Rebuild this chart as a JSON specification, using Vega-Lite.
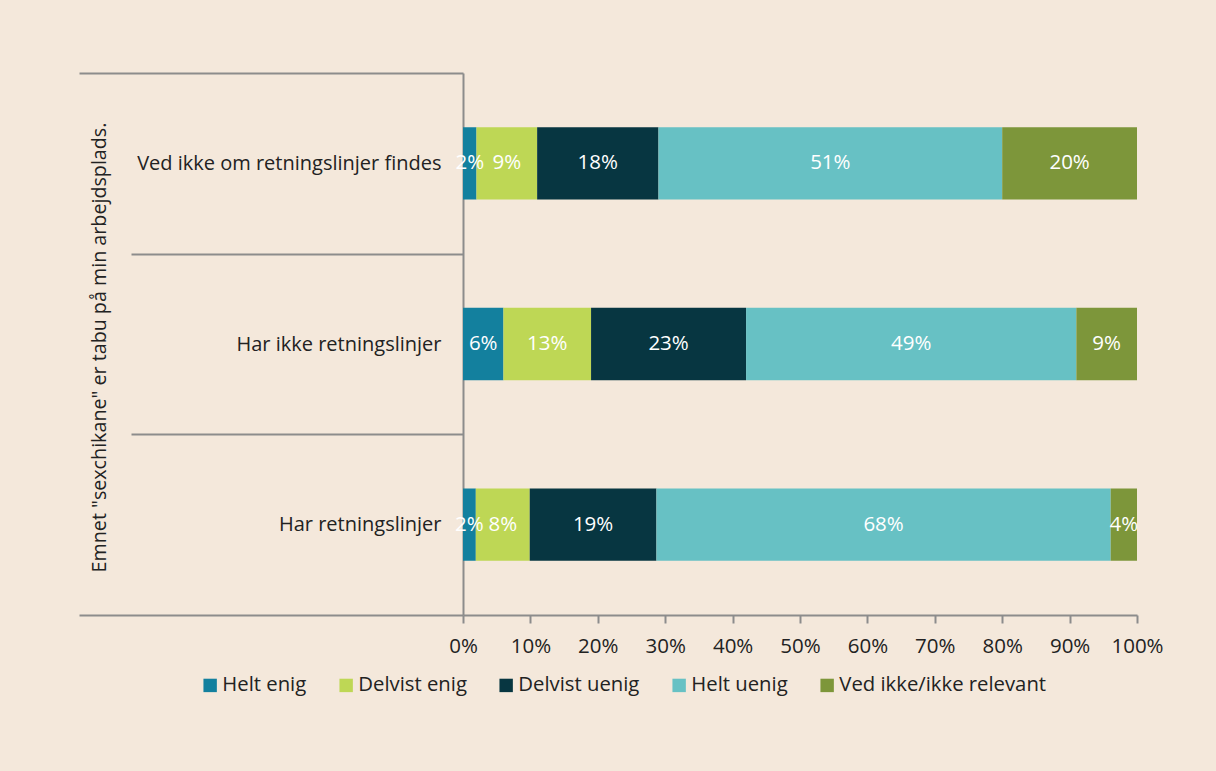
{
  "$schema": "https://vega.github.io/schema/vega-lite/v6.json",
  "width": 674,
  "height": 542,
  "padding": {"left": 78, "top": 63, "right": 60, "bottom": 90},
  "background": "#F4E8DB",
  "config": {"view": {"stroke": null}, "font": "Open Sans"},
  "data": {
    "values": [
      {"group": "Ved ikke om retningslinjer findes", "answer": "Helt enig", "order": 1, "value": 2, "label": "2%"},
      {"group": "Ved ikke om retningslinjer findes", "answer": "Delvist enig", "order": 2, "value": 9, "label": "9%"},
      {"group": "Ved ikke om retningslinjer findes", "answer": "Delvist uenig", "order": 3, "value": 18, "label": "18%"},
      {"group": "Ved ikke om retningslinjer findes", "answer": "Helt uenig", "order": 4, "value": 51, "label": "51%"},
      {"group": "Ved ikke om retningslinjer findes", "answer": "Ved ikke/ikke relevant", "order": 5, "value": 20, "label": "20%"},
      {"group": "Har ikke retningslinjer", "answer": "Helt enig", "order": 1, "value": 6, "label": "6%"},
      {"group": "Har ikke retningslinjer", "answer": "Delvist enig", "order": 2, "value": 13, "label": "13%"},
      {"group": "Har ikke retningslinjer", "answer": "Delvist uenig", "order": 3, "value": 23, "label": "23%"},
      {"group": "Har ikke retningslinjer", "answer": "Helt uenig", "order": 4, "value": 49, "label": "49%"},
      {"group": "Har ikke retningslinjer", "answer": "Ved ikke/ikke relevant", "order": 5, "value": 9, "label": "9%"},
      {"group": "Har retningslinjer", "answer": "Helt enig", "order": 1, "value": 1.9, "label": "2%"},
      {"group": "Har retningslinjer", "answer": "Delvist enig", "order": 2, "value": 8.0, "label": "8%"},
      {"group": "Har retningslinjer", "answer": "Delvist uenig", "order": 3, "value": 18.8, "label": "19%"},
      {"group": "Har retningslinjer", "answer": "Helt uenig", "order": 4, "value": 67.4, "label": "68%"},
      {"group": "Har retningslinjer", "answer": "Ved ikke/ikke relevant", "order": 5, "value": 3.9, "label": "4%"}
    ]
  },
  "transform": [
    {"stack": "value", "groupby": ["group"], "sort": [{"field": "order"}], "as": ["v0", "v1"]},
    {"calculate": "(datum.v0 + datum.v1) / 2", "as": "mid"}
  ],
  "encoding": {
    "y": {
      "field": "group",
      "type": "nominal",
      "sort": ["Ved ikke om retningslinjer findes", "Har ikke retningslinjer", "Har retningslinjer"],
      "scale": {"paddingInner": 0, "paddingOuter": 0},
      "axis": {
        "title": "Emnet \"sexchikane\" er tabu på min arbejdsplads.",
        "titleX": -364,
        "titleY": 274,
        "titleAngle": -90,
        "titleAlign": "center",
        "titleBaseline": "middle",
        "titleFontSize": 19.7,
        "titleFontWeight": "normal",
        "titleColor": "#222222",
        "tickBand": "extent",
        "tickSize": {"condition": {"test": "datum.extra || datum.value == 'Har retningslinjer'", "value": 384}, "value": 332},
        "tickColor": "#8C8C8C",
        "tickWidth": 2,
        "domainColor": "#8C8C8C",
        "domainWidth": 2,
        "labelPadding": {"condition": {"test": "datum.value == 'Har retningslinjer'", "value": -362}, "value": -310},
        "labelFontSize": 20,
        "labelColor": "#222222",
        "labelLimit": 400
      }
    }
  },
  "layer": [
    {
      "mark": {"type": "bar", "height": {"band": 0.4}},
      "encoding": {
        "x": {
          "field": "v0",
          "type": "quantitative",
          "scale": {"domain": [0, 100], "nice": false},
          "axis": {
            "values": [0, 10, 20, 30, 40, 50, 60, 70, 80, 90, 100],
            "labelExpr": "datum.value + '%'",
            "labelFlush": false,
            "title": null,
            "grid": false,
            "tickSize": 8,
            "tickColor": "#8C8C8C",
            "tickWidth": 2,
            "domainColor": "#8C8C8C",
            "domainWidth": 2,
            "labelPadding": 13,
            "labelFontSize": 20.5,
            "labelColor": "#222222"
          }
        },
        "x2": {"field": "v1"},
        "color": {
          "field": "answer",
          "type": "nominal",
          "scale": {
            "domain": ["Helt enig", "Delvist enig", "Delvist uenig", "Helt uenig", "Ved ikke/ikke relevant"],
            "range": ["#13809E", "#BED755", "#073641", "#67C1C4", "#7D963A"]
          },
          "legend": {
            "title": null,
            "orient": "none",
            "legendX": -263,
            "legendY": 602,
            "direction": "horizontal",
            "symbolType": "square",
            "symbolSize": 180,
            "symbolStrokeWidth": 0,
            "labelFontSize": 20.3,
            "labelColor": "#222222",
            "labelOffset": 2,
            "columnPadding": 29,
            "labelLimit": 300
          }
        }
      }
    },
    {
      "mark": {"type": "text", "color": "white", "fontSize": 20.5},
      "encoding": {
        "x": {"field": "mid", "type": "quantitative"},
        "text": {"field": "label", "type": "nominal"}
      }
    }
  ]
}
